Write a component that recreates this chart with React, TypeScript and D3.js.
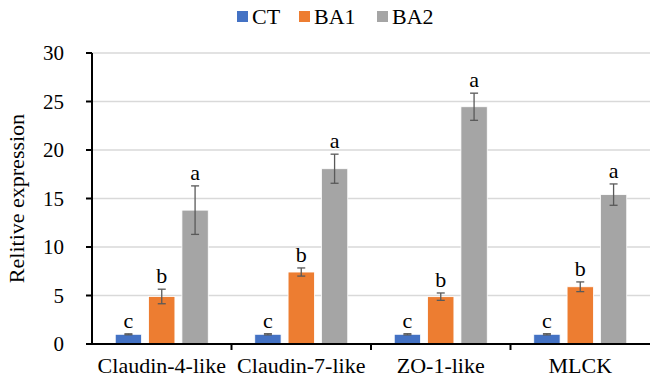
import React from "react";
import * as d3 from "d3";

const categories = ["Claudin-4-like", "Claudin-7-like", "ZO-1-like", "MLCK"];
const seriesNames = ["CT", "BA1", "BA2"];
const ctValues = [1.0, 1.0, 1.0, 1.0];
const ba1Values = [4.9, 7.42, 4.88, 5.9];
const ba2Values = [13.8, 18.07, 24.46, 15.4];
const ctErrors = [0.05, 0.06, 0.06, 0.06];
const ba1Errors = [0.75, 0.42, 0.38, 0.5];
const ba2Errors = [2.5, 1.5, 1.4, 1.1];
const ctLetters = ["c", "c", "c", "c"];
const ba1Letters = ["b", "b", "b", "b"];
const ba2Letters = ["a", "a", "a", "a"];
const yTicks = [0, 5, 10, 15, 20, 25, 30];
const colors = ["#4472C4", "#ED7D31", "#A5A5A5"];

const W = 651;
const H = 382;
const FONT = '"Liberation Serif"';

export default function App() {
  const left = 92;
  const right = 650;
  const top = 53;
  const bottom = 344;
  const x = d3.scaleBand<string>().domain(categories).range([left, right]).paddingInner(0).paddingOuter(0);
  const y = d3.scaleLinear().domain([0, 30]).range([bottom, top]);
  const inner = d3.scaleBand<string>().domain(seriesNames).range([0, 93]).paddingInner(0.21).paddingOuter(0);
  const groupOffset = (x.bandwidth() - 93) / 2;
  const values = [ctValues, ba1Values, ba2Values];
  const errors = [ctErrors, ba1Errors, ba2Errors];
  const letters = [ctLetters, ba1Letters, ba2Letters];
  const legendX = [237, 299, 377];

  return (
    <div style={{ position: "absolute", left: 0, top: 0 }}>
      <svg width={W} height={H} style={{ display: "block", background: "#fff" }}>
        {yTicks.slice(1).map((t) => (
          <line key={"g" + t} x1={left} x2={right} y1={y(t)} y2={y(t)} stroke="#D9D9D9" strokeWidth={1.3} />
        ))}
        {categories.map((c, ci) =>
          seriesNames.map((s, si) => {
            const bx = (x(c) as number) + groupOffset + (inner(s) as number);
            const bw = inner.bandwidth();
            const v = values[si][ci];
            const e = errors[si][ci];
            const cx = bx + bw / 2;
            return (
              <g key={c + s}>
                <rect x={bx} y={y(v)} width={bw} height={bottom - y(v)} fill={colors[si]} stroke="#fff" strokeWidth={0.8} />
                <line x1={cx} x2={cx} y1={y(v + e)} y2={y(v - e)} stroke="#595959" strokeWidth={1.3} />
                <line x1={cx - 4} x2={cx + 4} y1={y(v + e)} y2={y(v + e)} stroke="#595959" strokeWidth={1.3} />
                <line x1={cx - 4} x2={cx + 4} y1={y(v - e)} y2={y(v - e)} stroke="#595959" strokeWidth={1.3} />
                <text x={cx} y={y(v + e) - 6} textAnchor="middle" style={{ fontFamily: FONT, fontSize: 22 }} fill="#000">
                  {letters[si][ci]}
                </text>
              </g>
            );
          })
        )}
        <line x1={left} x2={left} y1={top} y2={bottom} stroke="#000" strokeWidth={2} />
        <line x1={left - 6} x2={right} y1={bottom} y2={bottom} stroke="#000" strokeWidth={2} />
        {yTicks.map((t) => (
          <g key={"t" + t}>
            <line x1={left - 6} x2={left} y1={y(t)} y2={y(t)} stroke="#000" strokeWidth={2} />
            <text x={left - 28} y={y(t)} dy="0.35em" textAnchor="end" style={{ fontFamily: FONT, fontSize: 21 }} fill="#000">
              {t}
            </text>
          </g>
        ))}
        {categories.map((c, ci) => (
          <g key={"x" + c}>
            {ci > 0 && <line x1={x(c)} x2={x(c)} y1={bottom} y2={bottom + 6} stroke="#000" strokeWidth={2} />}
            <text x={(x(c) as number) + x.bandwidth() / 2} y={373} textAnchor="middle" style={{ fontFamily: FONT, fontSize: 22 }} fill="#000">
              {c}
            </text>
          </g>
        ))}
        <text
          transform={`translate(24,${(top + bottom) / 2}) rotate(-90)`}
          textAnchor="middle"
          style={{ fontFamily: FONT, fontSize: 22 }}
          fill="#000"
        >
          Relitive expression
        </text>
        {seriesNames.map((s, si) => (
          <g key={"l" + s}>
            <rect x={legendX[si]} y={11} width={11} height={11} fill={colors[si]} />
            <text x={legendX[si] + 15} y={24} style={{ fontFamily: FONT, fontSize: 22 }} fill="#000">
              {s}
            </text>
          </g>
        ))}
      </svg>
    </div>
  );
}
